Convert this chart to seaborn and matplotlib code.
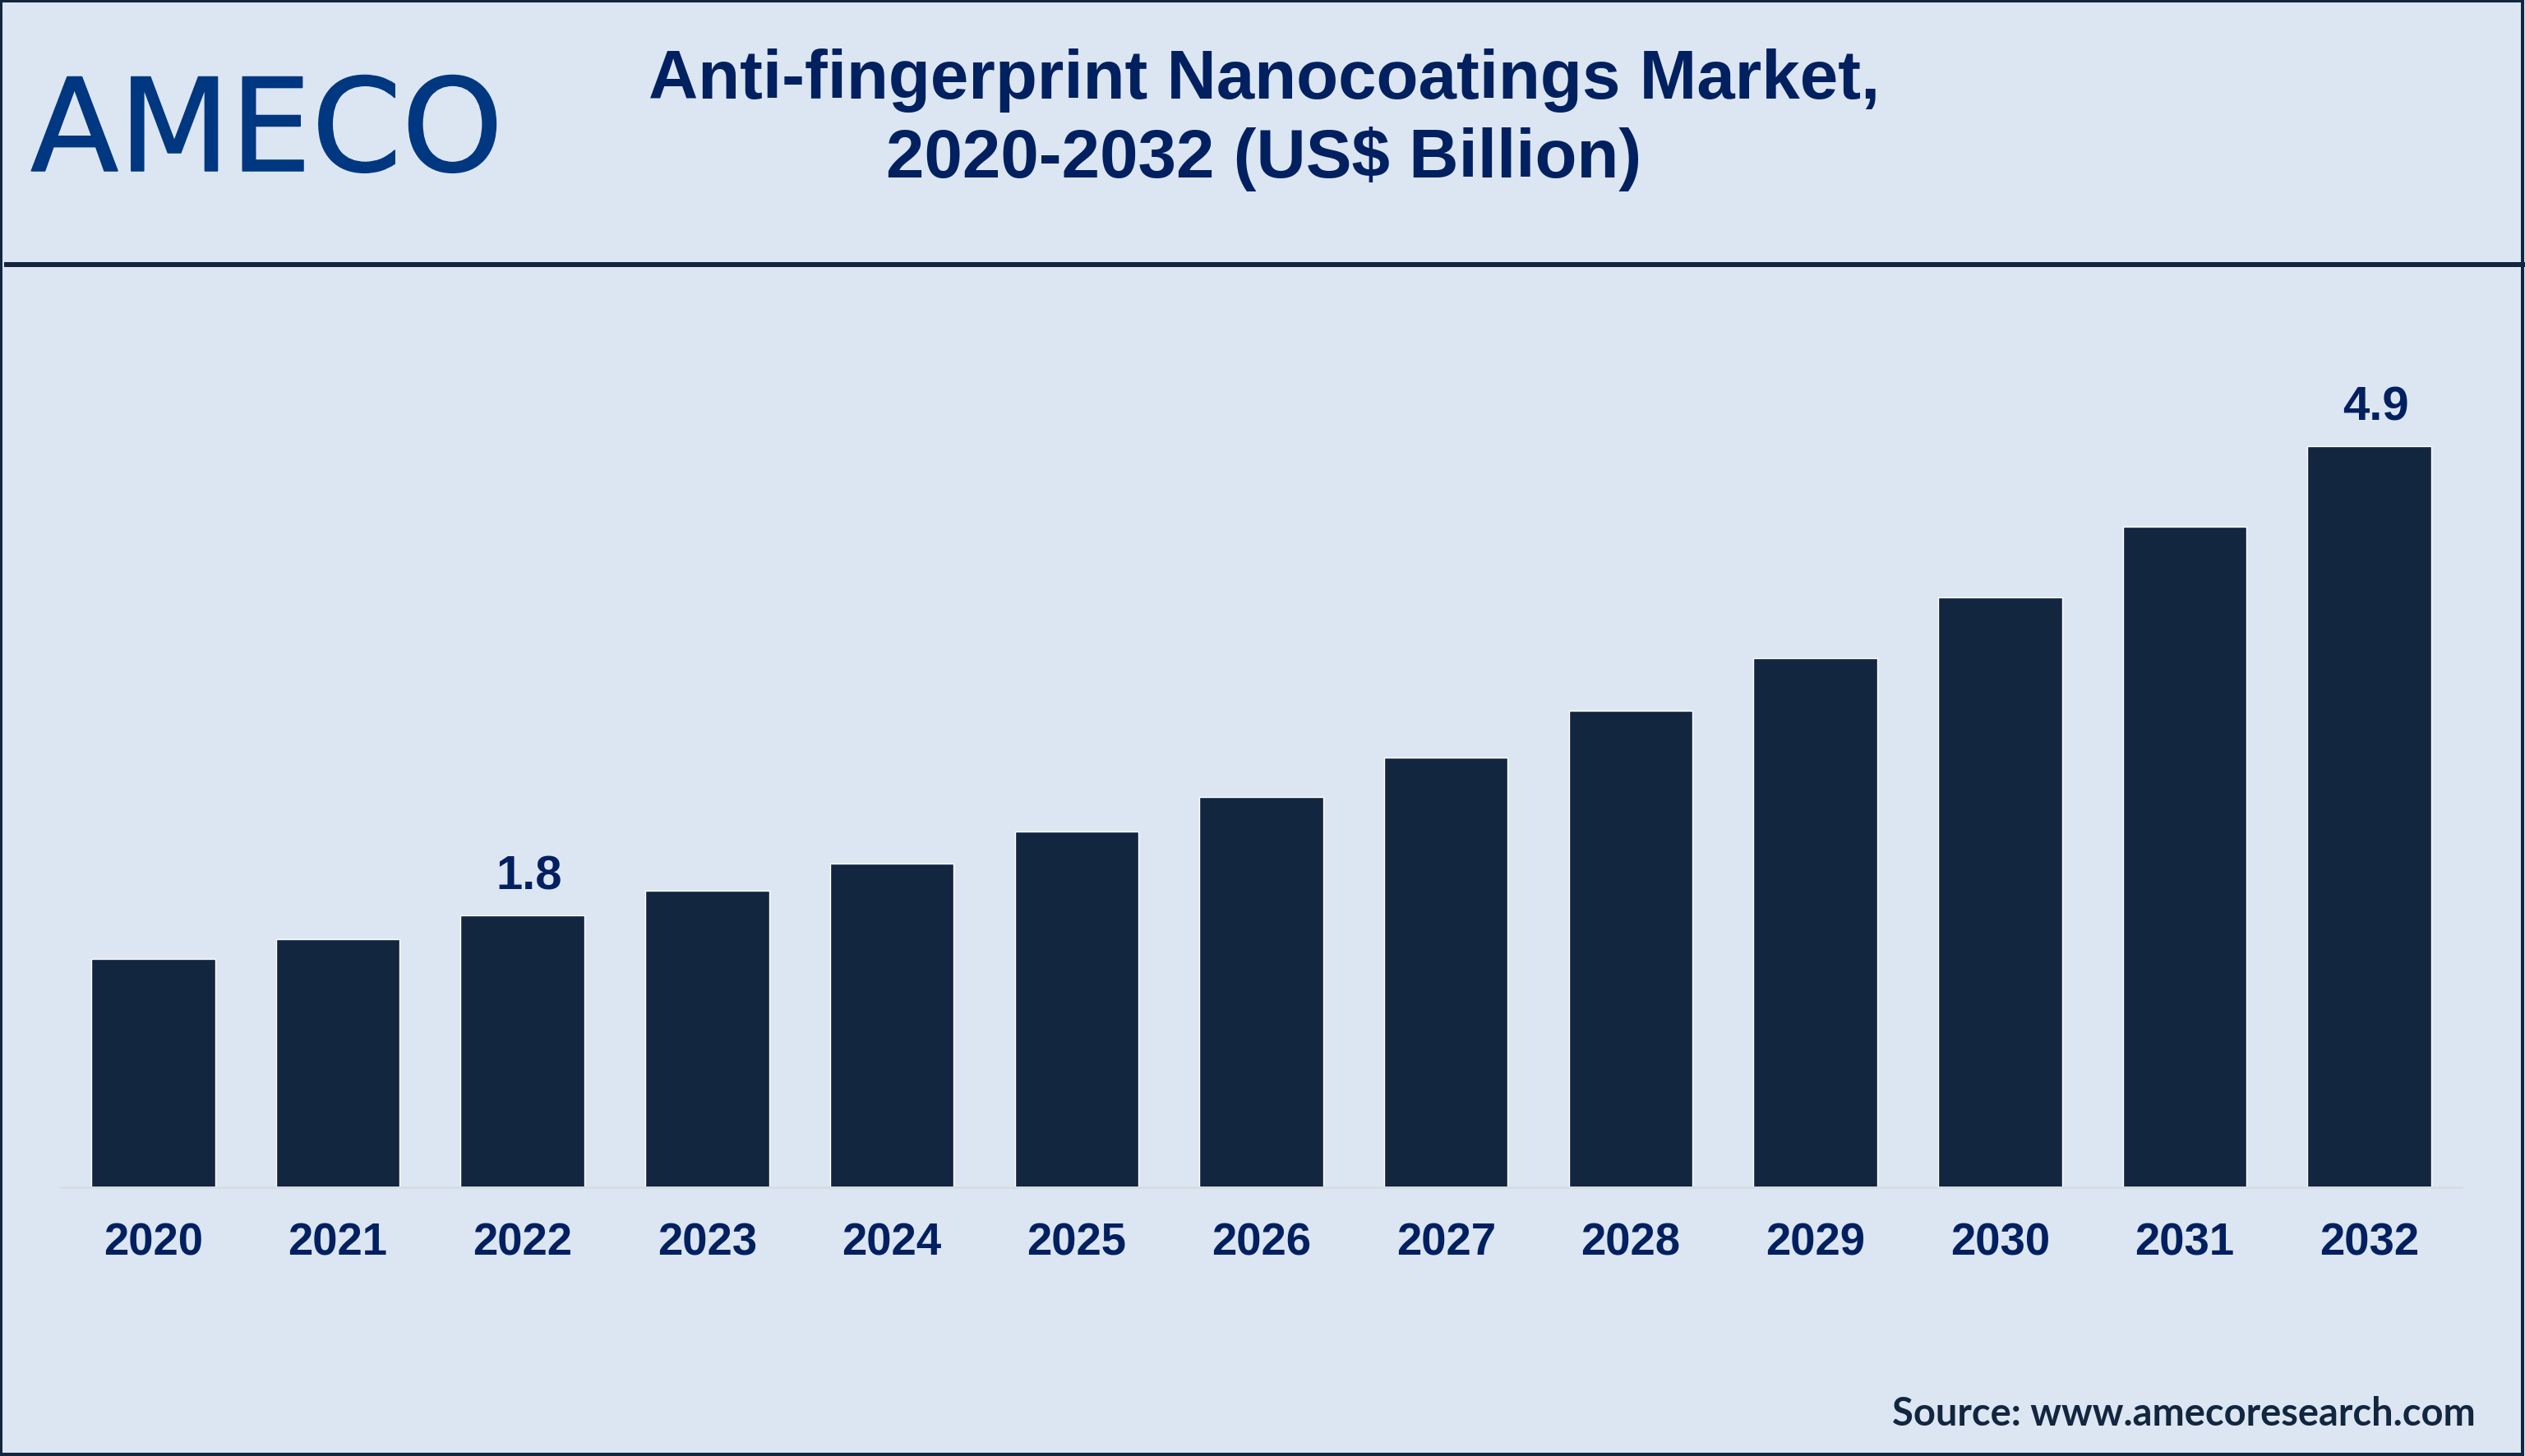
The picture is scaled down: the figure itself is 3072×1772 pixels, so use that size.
import matplotlib
matplotlib.use("Agg")
import matplotlib.pyplot as plt
import matplotlib.patheffects as pe
from matplotlib.lines import Line2D
from matplotlib.patches import Rectangle
import pandas as pd
import seaborn as sns

years = [2020, 2021, 2022, 2023, 2024, 2025, 2026, 2027, 2028, 2029, 2030, 2031, 2032]
market_size = [1.51, 1.64, 1.80, 1.96, 2.14, 2.35, 2.58, 2.84, 3.15, 3.50, 3.90, 4.37, 4.90]
bar_labels = ["", "", "1.8", "", "", "", "", "", "", "", "", "", "4.9"]

W, H = 3072, 1772
BG = "#DCE6F2"
DARK = "#12263F"
NAVY = "#002060"
LOGO = "#003781"


def px(size):
    # font size in points for a size in pixels at dpi 100
    return size * 0.72


sns.set_theme(style="white")
plt.rcParams["font.family"] = ["Liberation Sans", "DejaVu Sans"]

df = pd.DataFrame({"year": years, "size": market_size})

fig = plt.figure(figsize=(W / 100, H / 100), dpi=100, facecolor=BG)
ax = fig.add_axes([74 / W, 1 - 1445 / H, (2995 - 74) / W, 1100 / H])
ax.patch.set_alpha(0)

sns.barplot(data=df, x="year", y="size", color=DARK, saturation=1, width=0.67, ax=ax)
ax.set_xlim(-0.5, 12.5)
ax.set_ylim(0, 1100 / (902 / 4.9))

sns.despine(ax=ax, left=True)
ax.spines["bottom"].set_color("#D7DCE3")
ax.spines["bottom"].set_linewidth(px(3))
ax.set_xlabel("")
ax.set_ylabel("")
ax.set_yticks([])
ax.tick_params(axis="x", length=0, pad=px(42))
for label in ax.get_xticklabels():
    label.set_fontsize(px(54.5))
    label.set_fontweight("bold")
    label.set_color(NAVY)

value_texts = ax.bar_label(ax.containers[0], labels=bar_labels, padding=px(19),
                           fontsize=px(58), fontweight="bold", color=NAVY)
for t in value_texts:
    t.xyann = (px(8), px(19))

# header
fig.text(1538 / W, 1 - 146 / H, "Anti-fingerprint Nanocoatings Market,\n2020-2032 (US$ Billion)",
         ha="center", va="center", fontsize=px(83.5), fontweight="bold", color=NAVY,
         linespacing=1.29)
fig.text(37 / W, 1 - 208 / H, "AMECO", ha="left", va="baseline", fontsize=px(157),
         family="DejaVu Sans", color=LOGO,
         path_effects=[pe.withStroke(linewidth=px(1.5), foreground=LOGO)])
fig.add_artist(Line2D([5 / W, 1], [1 - 321.5 / H] * 2, color=DARK, lw=px(6),
                      solid_capstyle="butt", transform=fig.transFigure))

# source and border
fig.text(3012 / W, 1 - 1735 / H, "Source: www.amecoresearch.com", ha="right", va="baseline",
         fontsize=px(47), fontweight="bold", family="Lato", color=DARK)
fig.add_artist(Rectangle((1 / W, 2 / H), (W - 4) / W, (H - 3) / H, fill=False, edgecolor=DARK,
                         lw=px(4), transform=fig.transFigure))

fig.savefig("out.png", dpi=100, facecolor=BG)
